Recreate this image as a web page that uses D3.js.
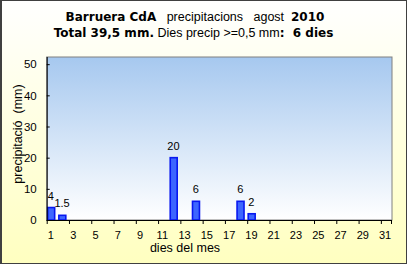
<!DOCTYPE html>
<html><head><meta charset="utf-8">
<script src="https://cdn.jsdelivr.net/npm/d3@7"></script>
<style>body{margin:0;padding:0;overflow:hidden;background:#fff}svg{display:block}</style>
</head><body>
<script>
const days = d3.range(1, 32);
const values = {1:4, 2:1.5, 12:20, 14:6, 18:6, 19:2};
const precip = days.map(d => values[d] || 0);
const valueLabels = ["4","1.5","20","6","6","2"];
const yTicks = [0,10,20,30,40,50];
const xTickDays = d3.range(1, 32, 2);

const W = 407, H = 264;
const m = {left: 46.7, right: 15, top: 57, bottom: 44};
const svg = d3.select("body").append("svg").attr("width", W).attr("height", H);
const defs = svg.append("defs");
const g1 = defs.append("linearGradient").attr("id","bg").attr("x1",0).attr("y1",0).attr("x2",0).attr("y2",1);
g1.append("stop").attr("offset","0%").attr("stop-color","#ffffff");
g1.append("stop").attr("offset","100%").attr("stop-color","#ffffc0");
const g2 = defs.append("linearGradient").attr("id","pbg").attr("x1",0).attr("y1",0).attr("x2",0).attr("y2",1);
g2.append("stop").attr("offset","0%").attr("stop-color","#a6c8ef");
g2.append("stop").attr("offset","100%").attr("stop-color","#ffffff");

svg.append("rect").attr("x",0.5).attr("y",0.5).attr("width",W-1).attr("height",H-1)
  .attr("fill","url(#bg)").attr("stroke","#404040").attr("stroke-width",1);
svg.append("line").attr("x1",1.5).attr("x2",1.5).attr("y1",0).attr("y2",H).attr("stroke","#404040");

const x0 = m.left, x1 = 392, y0 = m.top, y1 = 220;
const x = d3.scaleBand().domain(days).range([x0, x1]).paddingInner(0).paddingOuter(0);
const y = d3.scaleLinear().domain([0, 52.3]).range([y1, y0]);

svg.append("rect").attr("x",x0).attr("y",y0).attr("width",x1-x0).attr("height",y1-y0)
  .attr("fill","url(#pbg)").attr("stroke","#808080").attr("stroke-width",1);

const bw = x.bandwidth()*0.76;
const data = days.map((d,i)=>({d, v: precip[i]})).filter(o => o.v > 0);
svg.selectAll("rect.bar").data(data).enter().append("rect").attr("class","bar")
  .attr("x", o => x(o.d)+1)
  .attr("y", o => y(o.v))
  .attr("width", bw-1.5)
  .attr("height", o => y(0)-y(o.v))
  .attr("fill","#3d66ff").attr("stroke","#0818f0").attr("stroke-width",1.6);

svg.selectAll("text.vl").data(data).enter().append("text").attr("class","vl")
  .attr("x", o => x(o.d)+bw/2)
  .attr("y", o => y(o.v)-8)
  .attr("text-anchor","middle")
  .attr("font-family","Liberation Sans, Arial, sans-serif").attr("font-size",11)
  .text((o,i)=>valueLabels[i]);

// Y axis
const yAxis = d3.axisLeft(y).tickValues(yTicks).tickSize(-3).tickPadding(10);
const ya = svg.append("g").attr("transform",`translate(${x0},0)`).call(yAxis);
ya.select(".domain").attr("stroke","#000").attr("d",`M0.5,${y0}V${y1}`);
ya.selectAll("text").attr("font-family","Liberation Sans, Arial, sans-serif").attr("font-size",11.5).attr("fill","#000");
ya.selectAll("line").attr("stroke","#000");

// X axis
const xAxis = d3.axisBottom(x).tickValues(xTickDays).tickSize(0).tickPadding(11);
const xa = svg.append("g").attr("transform",`translate(0,${y1})`).call(xAxis);
xa.select(".domain").attr("stroke","#000").attr("d",`M${x0},0.5H${x1}`);
xa.selectAll(".tick").attr("transform", d => `translate(${x(d)+bw/2},0)`);
xa.selectAll("text").attr("font-family","Liberation Sans, Arial, sans-serif").attr("font-size",11).attr("fill","#000");
svg.selectAll("line.xt").data(xTickDays).enter().append("line").attr("class","xt")
  .attr("x1", d=>x(d)+0.5).attr("x2", d=>x(d)+0.5).attr("y1", y1).attr("y2", y1+4).attr("stroke","#000");
svg.append("line").attr("x1",x1-0.5).attr("x2",x1-0.5).attr("y1",y1).attr("y2",y1+4).attr("stroke","#000");

svg.append("text").attr("x",185).attr("y",251.5).attr("text-anchor","middle")
  .attr("font-family","Liberation Sans, Arial, sans-serif").attr("font-size",12.5).text("dies del mes");
svg.append("text").attr("transform","translate(22,134) rotate(-90)").attr("text-anchor","middle")
  .attr("font-family","Liberation Sans, Arial, sans-serif").attr("font-size",12.5)
  .style("white-space","pre").text("precipitació  (mm)");

const t1 = svg.append("text").attr("x",195).attr("y",20.5).attr("text-anchor","middle")
  .attr("font-family","Liberation Sans, Arial, sans-serif").attr("font-size",12.5).style("white-space","pre");
t1.append("tspan").attr("font-weight","bold").attr("font-family","DejaVu Sans, sans-serif").attr("font-size",12).text("Barruera CdA");
t1.append("tspan").text("   precipitacions   agost  ");
t1.append("tspan").attr("font-weight","bold").attr("font-family","DejaVu Sans, sans-serif").attr("font-size",12).text("2010");
const t2 = svg.append("text").attr("x",193.5).attr("y",37).attr("text-anchor","middle")
  .attr("font-family","Liberation Sans, Arial, sans-serif").attr("font-size",12.5).style("white-space","pre");
t2.append("tspan").attr("font-weight","bold").attr("font-family","DejaVu Sans, sans-serif").attr("font-size",12).text("Total 39,5 mm.");
t2.append("tspan").text(" Dies precip >=0,5 mm");
t2.append("tspan").attr("font-weight","bold").attr("font-family","DejaVu Sans, sans-serif").attr("font-size",12).text(":  6 dies");
</script>
</body></html>
